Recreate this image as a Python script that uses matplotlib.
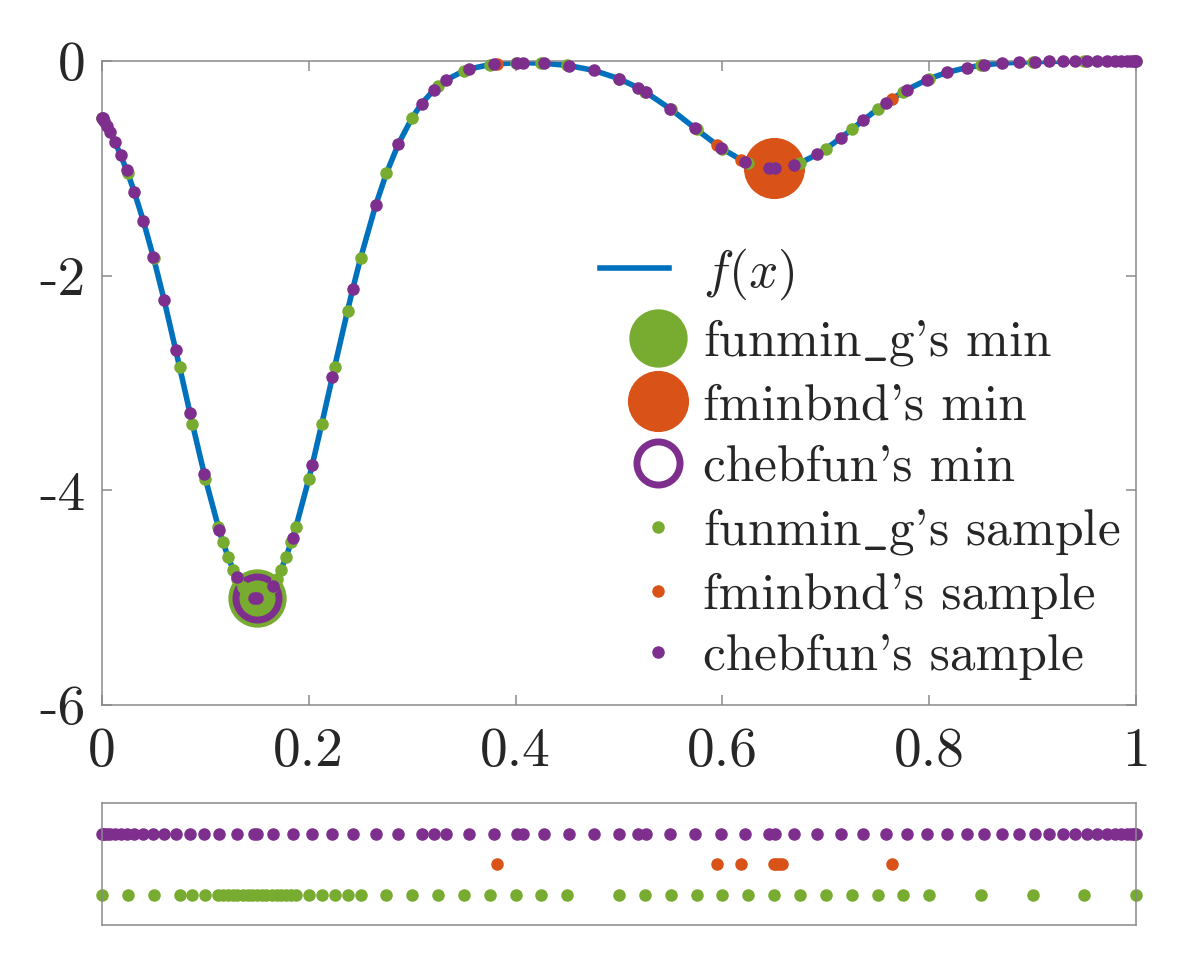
import numpy as np
import matplotlib
matplotlib.use("Agg")
import matplotlib.pyplot as plt
from matplotlib.legend_handler import HandlerLine2D

plt.rcParams["mathtext.fontset"] = "cm"
plt.rcParams["font.family"] = ["cmr10", "DejaVu Serif"]

# chebfun sample points (x read from the lower strip, y from the curve)
cheb_x = [0.0, 0.0005, 0.002, 0.0045, 0.008, 0.0126, 0.0179, 0.0239, 0.0312, 0.0399,
          0.0496, 0.060, 0.0713, 0.0851, 0.0989, 0.1134, 0.1303, 0.1473, 0.150, 0.1651,
          0.1844, 0.2034, 0.2227, 0.2425, 0.2647, 0.2866, 0.3092, 0.3211, 0.3324, 0.3552,
          0.3794, 0.4018, 0.4076, 0.4275, 0.4514, 0.4756, 0.500, 0.5184, 0.5258, 0.5493,
          0.5735, 0.5982, 0.6219, 0.6451, 0.6509, 0.6692, 0.6915, 0.7144, 0.7363, 0.7579,
          0.7782, 0.7982, 0.8175, 0.8363, 0.853, 0.8701, 0.8868, 0.9023, 0.9159, 0.9297,
          0.941, 0.9523, 0.962, 0.9717, 0.9792, 0.9857, 0.991, 0.995, 0.9978, 0.9994, 1.0]
cheb_y = [-0.527, -0.535, -0.559, -0.602, -0.666, -0.757, -0.873, -1.019, -1.219, -1.488,
          -1.825, -2.224, -2.692, -3.282, -3.851, -4.373, -4.810, -5.000, -5.000, -4.888,
          -4.442, -3.760, -2.948, -2.125, -1.342, -0.774, -0.397, -0.268, -0.179, -0.075,
          -0.029, -0.016, -0.016, -0.021, -0.043, -0.088, -0.165, -0.250, -0.291, -0.444,
          -0.626, -0.807, -0.939, -0.998, -1.000, -0.971, -0.871, -0.718, -0.551, -0.394,
          -0.269, -0.173, -0.106, -0.062, -0.037, -0.021, -0.011, -0.006, -0.004, -0.002,
          -0.001, -0.001, -0.0004, -0.0002, -0.0001, 0.0, 0.0, 0.0, 0.0, 0.0, 0.0]

# funmin_g sample points
gail_x = [0.0, 0.025, 0.05, 0.075, 0.0875, 0.1, 0.1125, 0.117, 0.122, 0.127,
          0.131, 0.136, 0.141, 0.145, 0.150, 0.155, 0.159, 0.164, 0.169, 0.173,
          0.178, 0.183, 0.1875, 0.2, 0.2125, 0.225, 0.2375, 0.25, 0.275, 0.3,
          0.325, 0.35, 0.375, 0.4, 0.425, 0.45, 0.5, 0.525, 0.55, 0.575,
          0.6, 0.625, 0.65, 0.675, 0.7, 0.725, 0.75, 0.775, 0.8, 0.85,
          0.9, 0.95, 1.0]
gail_y = [-0.527, -1.048, -1.839, -2.849, -3.383, -3.894, -4.344, -4.484, -4.623, -4.742,
          -4.822, -4.903, -4.960, -4.988, -5.000, -4.988, -4.960, -4.903, -4.822, -4.742,
          -4.623, -4.484, -4.344, -3.894, -3.383, -2.849, -2.325, -1.839, -1.048, -0.527,
          -0.234, -0.092, -0.034, -0.016, -0.020, -0.042, -0.165, -0.287, -0.449, -0.638,
          -0.819, -0.951, -1.000, -0.951, -0.819, -0.638, -0.449, -0.287, -0.165, -0.041,
          -0.007, -0.001, 0.0]

# fminbnd sample points
fmin_x = [0.382, 0.595, 0.618, 0.650, 0.652, 0.655, 0.658, 0.764]
fmin_y = [-0.026, -0.785, -0.921, -1.000, -1.000, -0.998, -0.995, -0.353]

# minima found by each method
gail_min = (0.15, -5.0)
fmin_min = (0.65, -1.0)
cheb_min = (0.15, -5.0)

# rows of the lower strip
row_cheb, row_fmin, row_gail = 3, 2, 1

BLUE = "#0072BD"
ORANGE = "#D95319"
PURPLE = "#7E2F8E"
GREEN = "#77AC30"
AXCOL = "#8a8a8a"
TXT = "#262626"
US = r"$\mathtt{\_}$"   # underscore (cmr10 has a dot accent in that slot)


class ShiftedMarker(HandlerLine2D):
    # MATLAB puts the legend marker right of the icon centre
    def __init__(self, shift, **kw):
        super().__init__(**kw)
        self.shift = shift

    def create_artists(self, legend, orig_handle, xdescent, ydescent,
                       width, height, fontsize, trans):
        return super().create_artists(legend, orig_handle, xdescent - self.shift * fontsize,
                                      ydescent, width, height, fontsize, trans)


fig = plt.figure(figsize=(12, 9.66), dpi=100)
ax = fig.add_axes([0.085, 0.2702, 0.8617, 0.6667])
ax2 = fig.add_axes([0.085, 0.0424, 0.8617, 0.1263])

# curve drawn through all read sample points
all_x = np.array(cheb_x + gail_x + fmin_x)
all_y = np.array(cheb_y + gail_y + fmin_y)
order = np.argsort(all_x, kind="stable")
ax.plot(all_x[order], all_y[order], color=BLUE, lw=4.0, label="$f(x)$", zorder=2)

h1, = ax.plot(*gail_min, "o", ms=41, color=GREEN, mec=GREEN, ls="none",
              label="funmin" + US + "g's min", clip_on=False, zorder=3)
h2, = ax.plot(*fmin_min, "o", ms=43, color=ORANGE, mec=ORANGE, ls="none",
              label="fminbnd's min", clip_on=False, zorder=3)
h3, = ax.plot(*cheb_min, "o", ms=31, mfc="none", mec=PURPLE, mew=5, ls="none",
              label="chebfun's min", clip_on=False, zorder=3)

dot = 8
h4, = ax.plot(gail_x, gail_y, "o", ms=dot, color=GREEN, ls="none",
              label="funmin" + US + "g's sample", clip_on=False, zorder=4)
h5, = ax.plot(fmin_x, fmin_y, "o", ms=dot, color=ORANGE, ls="none",
              label="fminbnd's sample", clip_on=False, zorder=4)
h6, = ax.plot(cheb_x, cheb_y, "o", ms=dot, color=PURPLE, ls="none",
              label="chebfun's sample", clip_on=False, zorder=4)

ax.set_xlim(0, 1)
ax.set_ylim(-6, 0)
ax.set_xticks([0, 0.2, 0.4, 0.6, 0.8, 1])
ax.set_xticklabels(["0", "0.2", "0.4", "0.6", "0.8", "1"])
ax.set_yticks([-6, -4, -2, 0])
ax.set_yticklabels(["-6", "-4", "-2", "0"])
ax.tick_params(direction="in", length=7, width=1.1, color=AXCOL, top=True, right=True,
               labelsize=40, labelcolor=TXT)
ax.tick_params(axis="x", pad=16)
ax.tick_params(axis="y", pad=12)
for s in ax.spines.values():
    s.set_color(AXCOL)
    s.set_linewidth(1.1)

shifter = ShiftedMarker(0.45)
leg = ax.legend(loc="upper left", bbox_to_anchor=(600 / 1200, 1 - 246 / 966),
                bbox_transform=fig.transFigure, frameon=False, fontsize=37,
                handlelength=1.35, handletextpad=0.66, labelspacing=0.3,
                borderpad=0, borderaxespad=0,
                handler_map={h: shifter for h in (h1, h2, h3, h4, h5, h6)})
for t in leg.get_texts():
    t.set_color(TXT)

# lower strip: where each method sampled
ax2.plot(cheb_x, [row_cheb] * len(cheb_x), "o", ms=dot, color=PURPLE, ls="none", clip_on=False)
ax2.plot(fmin_x, [row_fmin] * len(fmin_x), "o", ms=dot, color=ORANGE, ls="none", clip_on=False)
ax2.plot(gail_x, [row_gail] * len(gail_x), "o", ms=dot, color=GREEN, ls="none", clip_on=False)
ax2.set_xlim(0, 1)
ax2.set_ylim(0, 4)
ax2.set_xticks([])
ax2.set_yticks([])
for s in ax2.spines.values():
    s.set_color(AXCOL)
    s.set_linewidth(1.1)

fig.savefig("out.png", dpi=100)
